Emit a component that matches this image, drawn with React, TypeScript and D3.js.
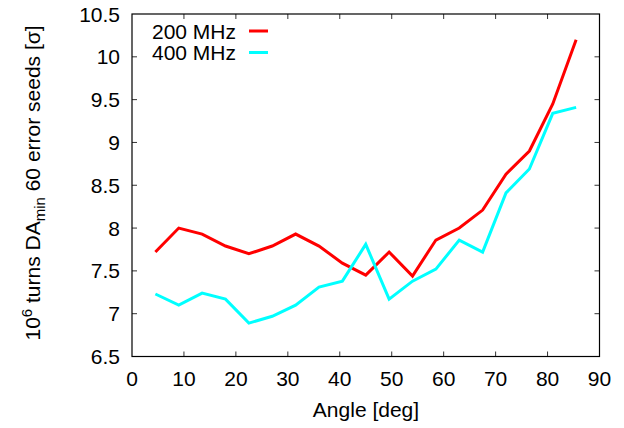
import React from "react";
import * as d3 from "d3";

const angles = [4.5, 9, 13.5, 18, 22.5, 27, 31.5, 36, 40.5, 45, 49.5, 54, 58.5, 63, 67.5, 72, 76.5, 81, 85.5];
const mhz200 = [7.72, 8.0, 7.93, 7.79, 7.7, 7.79, 7.93, 7.79, 7.59, 7.45, 7.72, 7.44, 7.86, 8.0, 8.21, 8.63, 8.9, 9.45, 10.2];
const mhz400 = [7.23, 7.1, 7.24, 7.17, 6.89, 6.97, 7.1, 7.31, 7.38, 7.81, 7.17, 7.38, 7.52, 7.86, 7.72, 8.41, 8.69, 9.34, 9.41];
const xTicks = [0, 10, 20, 30, 40, 50, 60, 70, 80, 90];
const yTicks = [6.5, 7, 7.5, 8, 8.5, 9, 9.5, 10, 10.5];
const seriesNames = ["200 MHz", "400 MHz"];
const seriesColors = ["#ff0000", "#00ffff"];

export default function App() {
  const W = 624, H = 428;
  const L = 132, R = 599.5, T = 14, B = 356.5;
  const x = d3.scaleLinear().domain([0, 90]).range([L, R]);
  const y = d3.scaleLinear().domain([6.5, 10.5]).range([B, T]);
  const line = d3.line<[number, number]>().x(d => x(d[0])).y(d => y(d[1]));
  const series = [mhz200, mhz400];
  const font = "'Liberation Sans', Arial, Helvetica, sans-serif";
  const fs = 21;
  const tl = 5;
  return (
    <svg width={W} height={H} style={{ position: "absolute", left: 0, top: 0 }} fontFamily={font}>
      <rect width={W} height={H} fill="#fff" />
      {xTicks.slice(1, -1).map(t => (
        <g key={"xt" + t} stroke="#333" strokeWidth={1}>
          <line x1={x(t)} x2={x(t)} y1={B} y2={B - tl} />
          <line x1={x(t)} x2={x(t)} y1={T} y2={T + tl} />
        </g>
      ))}
      {yTicks.slice(1, -1).map(t => (
        <g key={"yt" + t} stroke="#333" strokeWidth={1}>
          <line x1={L} x2={L + tl} y1={y(t)} y2={y(t)} />
          <line x1={R} x2={R - tl} y1={y(t)} y2={y(t)} />
        </g>
      ))}
      {xTicks.map(t => (
        <text key={"xl" + t} x={x(t)} y={B + 29.5} fontSize={fs} textAnchor="middle" fill="#000">{t}</text>
      ))}
      {yTicks.map(t => (
        <text key={"yl" + t} x={L - 12} y={y(t) + 7.5} fontSize={fs} textAnchor="end" fill="#000">{String(t)}</text>
      ))}
      {series.map((s, i) => (
        <path key={"s" + i} d={line(angles.map((a, j) => [a, s[j]] as [number, number])) || ""} fill="none" stroke={seriesColors[i]} strokeWidth={3} strokeLinejoin="miter" />
      ))}
      <rect x={L} y={T} width={R - L} height={B - T} fill="none" stroke="#000" strokeWidth={1.2} />
      {seriesNames.map((n, i) => (
        <g key={"lg" + i}>
          <text x={236} y={38.5 + i * 21.5} fontSize={fs} textAnchor="end" fill="#000">{n}</text>
          <line x1={249} x2={268} y1={31 + i * 21.5} y2={31 + i * 21.5} stroke={seriesColors[i]} strokeWidth={3} />
        </g>
      ))}
      <text x={366} y={417} fontSize={fs} textAnchor="middle" fill="#000">Angle [deg]</text>
      <text transform={`translate(40, 183) rotate(-90)`} fontSize={fs} textAnchor="middle" fill="#000">
        10<tspan dy={-8} fontSize={15}>6</tspan><tspan dy={8}> turns DA</tspan><tspan dy={5} fontSize={15}>min</tspan><tspan dy={-5}> 60 error seeds [σ]</tspan>
      </text>
    </svg>
  );
}
